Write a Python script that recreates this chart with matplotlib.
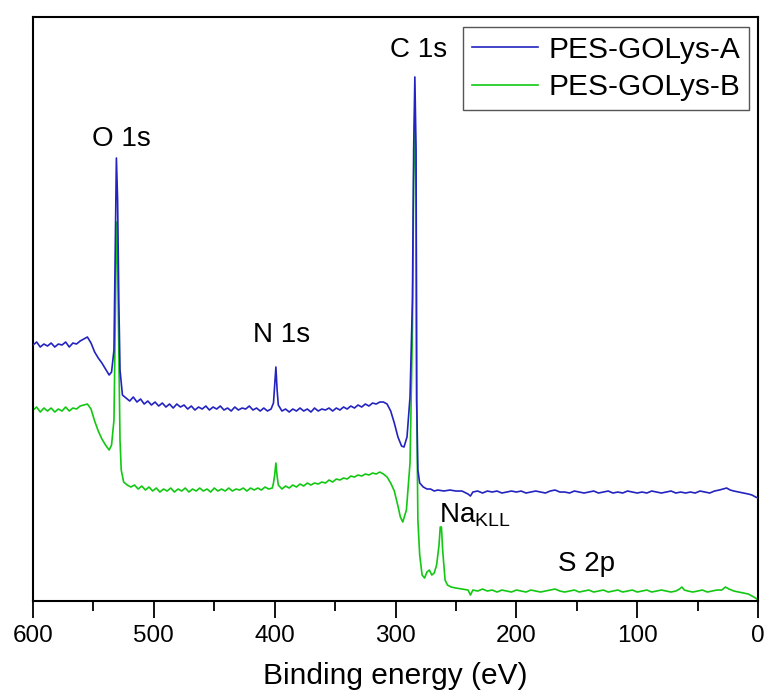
import numpy as np
import matplotlib.pyplot as plt

plt.rcParams['font.family'] = ['Liberation Sans', 'DejaVu Sans']
plt.rcParams['mathtext.fontset'] = 'custom'
plt.rcParams['mathtext.rm'] = 'Liberation Sans'

# (binding energy eV, intensity a.u.)
spec_a = [(600, 256), (597, 259), (594, 254), (591, 257), (588, 255), (585, 258), (582, 254),
          (579, 257), (576, 256), (573, 259), (570, 254), (567, 258), (564, 257), (561, 260),
          (558, 262), (555, 264), (552, 258), (549, 249), (546, 243), (543, 238), (540, 232),
          (537, 226), (535, 229), (533, 251), (532, 351), (531, 443), (530, 401), (529, 301),
          (528, 231), (526, 206), (523, 203), (520, 200), (517, 204), (514, 199), (511, 202),
          (508, 197), (505, 200), (502, 196), (499, 199), (496, 195), (493, 198), (490, 194),
          (487, 197), (484, 193), (481, 197), (478, 194), (475, 196), (472, 192), (469, 195),
          (466, 191), (463, 194), (460, 192), (457, 195), (454, 191), (451, 194), (448, 192),
          (445, 195), (442, 191), (439, 193), (436, 190), (433, 194), (430, 191), (427, 193),
          (424, 192), (421, 195), (418, 191), (415, 193), (412, 190), (409, 193), (406, 190),
          (403, 192), (401, 198), (400, 216), (399, 234), (398, 211), (397, 196), (394, 190),
          (391, 192), (388, 189), (385, 192), (382, 190), (379, 193), (376, 190), (373, 192),
          (370, 189), (367, 193), (364, 190), (361, 192), (358, 191), (355, 193), (352, 190),
          (349, 193), (346, 191), (343, 194), (340, 192), (337, 195), (334, 193), (331, 196),
          (328, 194), (325, 197), (322, 195), (319, 198), (316, 197), (313, 199), (310, 199),
          (307, 197), (304, 190), (301, 178), (298, 164), (295, 155), (293, 154), (290.5, 164),
          (288, 204), (286, 301), (285, 451), (284, 524), (283, 451), (282.5, 201),
          (281.5, 131), (280, 118), (277, 114), (274, 112), (271, 112), (268, 110), (265, 111),
          (260, 110), (255, 111), (250, 110), (245, 110), (240, 107), (238, 105), (236, 109),
          (232, 110), (228, 108), (224, 110), (220, 109), (216, 110), (212, 108), (208, 109),
          (204, 110), (200, 109), (196, 110), (192, 108), (188, 109), (184, 110), (180, 109),
          (176, 108), (172, 110), (168, 111), (164, 109), (160, 109), (156, 108), (152, 110),
          (148, 109), (144, 108), (140, 109), (136, 110), (132, 108), (128, 109), (124, 110),
          (120, 108), (116, 109), (112, 108), (108, 110), (104, 109), (100, 108), (96, 109),
          (92, 108), (88, 110), (84, 109), (80, 108), (76, 109), (72, 110), (68, 108),
          (64, 109), (60, 108), (56, 109), (52, 108), (48, 110), (44, 109), (40, 108),
          (36, 110), (32, 111), (29, 112), (26, 113), (23, 111), (20, 110), (16, 109),
          (12, 108), (8, 107), (5, 106), (2, 104), (0, 103)]

spec_b = [(600, 191), (597, 194), (594, 189), (591, 193), (588, 190), (585, 193), (582, 189),
          (579, 192), (576, 190), (573, 194), (570, 190), (567, 193), (564, 192), (561, 195),
          (558, 196), (555, 197), (552, 192), (549, 180), (546, 170), (543, 162), (540, 156),
          (537, 151), (535, 156), (533, 181), (532, 271), (531, 379), (530, 341), (529, 251),
          (528, 161), (527, 131), (525, 119), (522, 116), (519, 114), (516, 116), (513, 112),
          (510, 115), (507, 111), (504, 114), (501, 110), (498, 113), (495, 109), (492, 112),
          (489, 110), (486, 113), (483, 109), (480, 112), (477, 110), (474, 113), (471, 109),
          (468, 112), (465, 110), (462, 113), (459, 110), (456, 112), (453, 109), (450, 113),
          (447, 110), (444, 112), (441, 110), (438, 113), (435, 110), (432, 112), (429, 111),
          (426, 113), (423, 110), (420, 113), (417, 111), (414, 113), (411, 111), (408, 114),
          (405, 112), (402, 113), (401, 118), (400, 126), (399, 138), (398, 125), (397, 116),
          (394, 112), (391, 115), (388, 113), (385, 116), (382, 114), (379, 117), (376, 115),
          (373, 118), (370, 116), (367, 118), (364, 117), (361, 119), (358, 118), (355, 121),
          (352, 119), (349, 122), (346, 121), (343, 123), (340, 122), (337, 125), (334, 124),
          (331, 126), (328, 125), (325, 127), (322, 126), (319, 128), (316, 127), (313, 129),
          (310, 127), (307, 124), (304, 118), (301, 110), (298, 95), (296, 84), (294, 79),
          (291, 91), (288, 138), (286, 271), (285, 421), (284, 491), (283, 401), (282.5, 201),
          (281.5, 81), (280, 46), (278, 26), (276, 23), (274, 29), (272, 31), (270, 26),
          (268, 28), (266, 36), (264, 56), (263, 74), (262, 74), (261, 51), (259, 21),
          (257, 16), (254, 14), (250, 13), (245, 12), (240, 11), (238, 6), (236, 11),
          (232, 10), (228, 12), (224, 10), (220, 11), (216, 9), (212, 11), (208, 10),
          (204, 9), (200, 11), (196, 10), (192, 9), (188, 11), (184, 10), (180, 9),
          (176, 10), (172, 11), (168, 12), (164, 10), (160, 9), (156, 10), (152, 11),
          (148, 9), (144, 10), (140, 11), (136, 9), (132, 10), (128, 11), (124, 9),
          (120, 10), (116, 11), (112, 9), (108, 10), (104, 11), (100, 9), (96, 10),
          (92, 11), (88, 9), (84, 10), (80, 11), (76, 10), (72, 9), (68, 10), (65, 12),
          (63, 14), (61, 11), (58, 10), (54, 9), (50, 10), (46, 11), (42, 9), (38, 10),
          (34, 11), (30, 11), (27, 14), (24, 12), (20, 10), (16, 9), (12, 8), (8, 7),
          (5, 5), (2, 3), (0, 1)]

energy_a, inten_a = zip(*spec_a)
energy_b, inten_b = zip(*spec_b)

peak_labels = ['O 1s', 'N 1s', 'C 1s', 'Na$_{\\rm KLL}$', 'S 2p']
peak_pos = [(527, 455), (394, 259), (281, 544), (264, 79), (142, 30)]

fig = plt.figure(figsize=(7.66, 6.91), dpi=100)
ax = fig.add_axes([0.0431, 0.1302, 0.9465, 0.8452])

ax.plot(energy_b, inten_b, color='#12c812', lw=1.2, label='PES-GOLys-B', zorder=2)
ax.plot(energy_a, inten_a, color='#2323c0', lw=1.2, label='PES-GOLys-A', zorder=3)

for txt, (x, y) in zip(peak_labels, peak_pos):
    ha = 'left' if txt.startswith('Na') else 'center'
    ax.text(x, y, txt, fontsize=20, ha=ha, va='baseline')

ax.set_xlim(600, 0)
ax.set_ylim(0, 584)
ax.set_xticks(np.arange(600, -1, -100))
ax.set_xticks(np.arange(550, 0, -100), minor=True)
ax.tick_params(axis='x', which='major', direction='out', length=12, width=1.3,
               labelsize=17.5, pad=5)
ax.tick_params(axis='x', which='minor', direction='out', length=7, width=1.3)
ax.set_yticks([])
for s in ax.spines.values():
    s.set_linewidth(1.5)
ax.set_xlabel('Binding energy (eV)', fontsize=21.5, labelpad=11)

handles, labels = ax.get_legend_handles_labels()
leg = ax.legend(handles[::-1], labels[::-1], loc='upper right', fontsize=21.5,
                fancybox=False, edgecolor='#555555', framealpha=1,
                bbox_to_anchor=(0.988, 0.983), handlelength=2.2, handletextpad=0.35,
                borderpad=0.3, labelspacing=0.32, borderaxespad=0)
leg.get_frame().set_linewidth(1.0)

fig.savefig('out.png', dpi=100)
